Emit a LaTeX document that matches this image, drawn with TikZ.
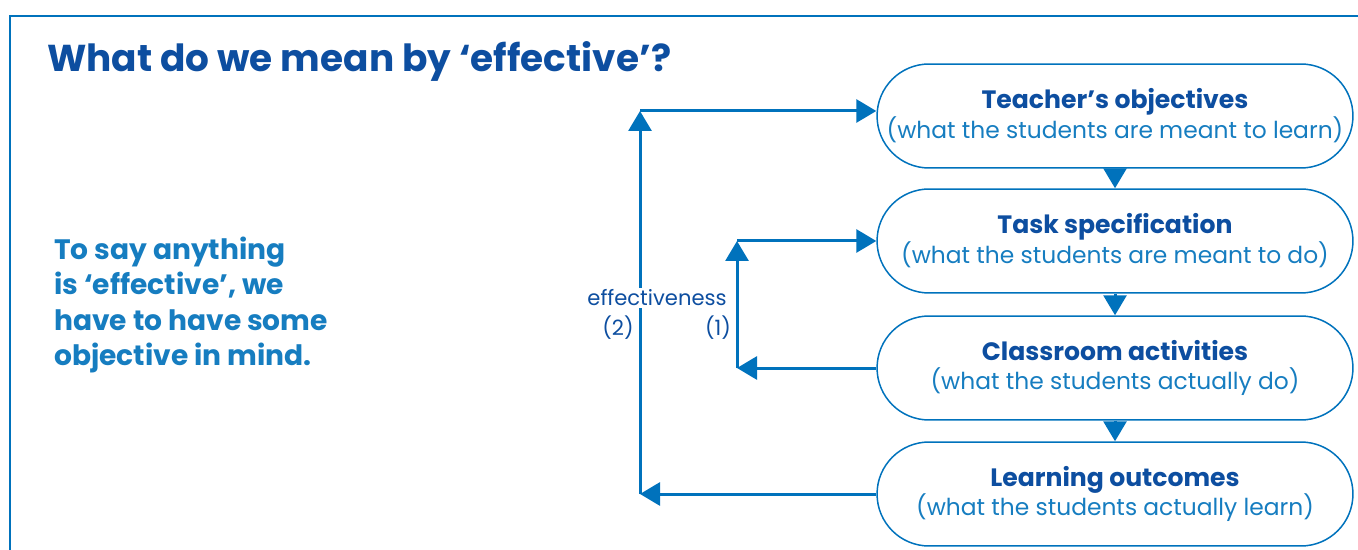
\documentclass[tikz,border=0pt]{standalone}
\usepackage{fontspec}
\setmainfont{Poppins}
\usepackage{tikz}
\usetikzlibrary{arrows.meta,shapes.misc}
\definecolor{darkblue}{RGB}{13,78,160}
\definecolor{lineblue}{RGB}{0,114,188}
\definecolor{lightblue}{RGB}{22,125,192}

\begin{document}
\begin{tikzpicture}[x=0.02cm, y=-0.02cm,
		stagebox/.style={draw=lineblue, rounded rectangle, minimum width=9.52cm, minimum height=2.08cm, inner sep=0pt, line width=0.03cm, align=center, text=darkblue, font=\fontsize{14.3}{17}\selectfont},
		arrowline/.style={draw=lineblue, line width=0.06cm, -{Triangle[length=0.4cm,width=0.46cm]}}
	]

	\useasboundingbox (0,0) rectangle (1358,550);
	\draw[lineblue, line width=0.05cm] (10,550) -- (10,16) -- (1358,16);

	\node[anchor=base west, text=darkblue, font=\fontsize{21.3}{26}\selectfont\bfseries] (title) at (41,72) {What do we mean by ‘effective’?};

	\node[anchor=north west, align=left, text=lightblue, font=\fontsize{16}{20}\selectfont\bfseries] (intro) at (48,231) {To say anything\\ is ‘effective’, we\\ have to have some\\ objective in mind.};

	\node[stagebox] (obj) at (1115,116) {\textbf{Teacher’s objectives}\\ {\color{lightblue}\fontsize{13.3}{17}\selectfont(what the students are meant to learn)}};
	\node[stagebox] (task) at (1115,241) {\textbf{Task specification}\\ {\color{lightblue}\fontsize{13.3}{17}\selectfont(what the students are meant to do)}};
	\node[stagebox] (act) at (1115,368) {\textbf{Classroom activities}\\ {\color{lightblue}\fontsize{13.3}{17}\selectfont(what the students actually do)}};
	\node[stagebox] (out) at (1115,494) {\textbf{Learning outcomes}\\ {\color{lightblue}\fontsize{13.3}{17}\selectfont(what the students actually learn)}};

	\draw[arrowline] (obj.south) -- (task.north);
	\draw[arrowline] (task.south) -- (act.north);
	\draw[arrowline] (act.south) -- (out.north);

	\coordinate (c1b) at (737,368);
	\coordinate (c1t) at (737,241);
	\coordinate (c2b) at (640,494);
	\coordinate (c2t) at (640,111);

	\draw[arrowline] (act.west) -- (c1b);
	\draw[arrowline] (c1b) -- (c1t);
	\draw[arrowline] (c1t) -- (task.west);

	\draw[arrowline] (out.west) -- (c2b);
	\draw[arrowline] (c2b) -- (c2t);
	\draw[arrowline] (c2t) -- (c2t -| obj.west);

	\node[fill=white, inner sep=1pt, text=darkblue, font=\fontsize{12}{14}\selectfont] (eff) at (657,298) {effectiveness};
	\node[text=darkblue, font=\fontsize{12}{14}\selectfont] (two) at (618,328) {(2)};
	\node[text=darkblue, font=\fontsize{12}{14}\selectfont] (one) at (718,328) {(1)};
\end{tikzpicture}
\end{document}
